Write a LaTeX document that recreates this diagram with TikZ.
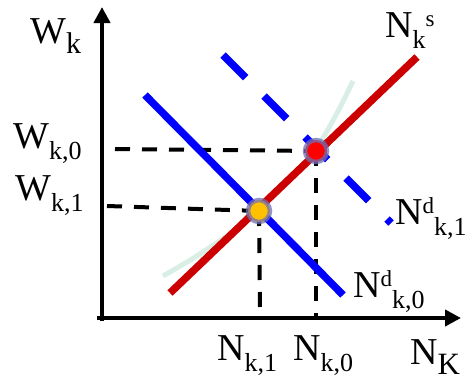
\documentclass[tikz,border=0pt]{standalone}
\usepackage{fontspec}
\setmainfont{Liberation Serif}
\usetikzlibrary{arrows.meta}
\definecolor{supred}{HTML}{CC0000}
\definecolor{dblue}{HTML}{0000FF}
\definecolor{paleg}{HTML}{D9EFE5}
\definecolor{ringc}{HTML}{6F6FB5}
\definecolor{gold}{HTML}{FFC000}
\newcommand\lsub[2][26]{\raisebox{-11pt}{\fontsize{#1}{#1}\selectfont #2}}
\newcommand\lsup[2][23]{\raisebox{11pt}{\fontsize{#1}{#1}\selectfont #2}}
\begin{document}
\begin{tikzpicture}[x=1pt,y=-1pt,
  lbl/.style={inner sep=0pt, anchor=base west, font=\fontsize{38}{38}\selectfont},
  axis/.style={line width=4.5pt, -{Triangle[length=16pt,width=16pt]}},
  guide/.style={line width=4pt, dash pattern=on 15pt off 12pt},
  curveline/.style={line width=7.5pt},
  eqdot/.style={circle, inner sep=0pt, minimum size=22pt, line width=4.5pt, draw=ringc, draw opacity=0.75}]
\useasboundingbox (0,0) rectangle (476,380);

% axes
\coordinate (yb) at (102,321);
\coordinate (yt) at (102,7);
\coordinate (xl) at (97,318);
\coordinate (xr) at (461,318);
\draw[axis] (yb) -- (yt);
\draw[axis] (xl) -- (xr);

% pale green curve
\draw[paleg, line width=5pt, line cap=butt] plot[smooth] coordinates {(163,276) (200,254) (240,226) (280,189) (315,150) (336,115) (353,81)};

% equilibrium dots (positions)
\coordinate (rdc) at (316,151);
\coordinate (ydc) at (259,211);

% dashed guides
\coordinate (h0s) at (115,149);
\coordinate (h1s) at (107,206);
\coordinate (v0e) at (316,318);
\coordinate (v1e) at (260,318);
\draw[guide] (h0s) -- (rdc);
\draw[guide] (h1s) -- (ydc);
\draw[guide] (rdc) -- (v0e);
\draw[guide] (ydc) -- (v1e);

% demand curves
\coordinate (d0a) at (145,95);
\coordinate (d0b) at (343,295);
\coordinate (d1a) at (223,55);
\coordinate (d1b) at (391,223);
\draw[curveline, dblue] (d0a) -- (d0b);
\draw[curveline, dblue, dash pattern=on 32pt off 26pt] (d1a) -- (d1b);

% supply curve
\coordinate (sa) at (170,293);
\coordinate (sb) at (417,57);
\draw[curveline, supred] (sa) -- (sb);

% dots
\node[eqdot, fill=red] (rd) at (rdc) {};
\node[eqdot, fill=gold] (yd) at (ydc) {};

% labels
\node[lbl] (wk) at (30,43) {W\raisebox{-10pt}{\fontsize{30}{30}\selectfont k}};
\node[lbl] (wk0) at (13,148) {W\lsub{k,0}};
\node[lbl] (wk1) at (15,200) {W\lsub{k,1}};
\node[lbl] (nk1) at (217,360) {N\lsub{k,1}};
\node[lbl] (nk0) at (293,360) {N\lsub{k,0}};
\node[lbl] (nK) at (410,364) {N\raisebox{-10pt}{\fontsize{31}{31}\selectfont K}};
\node[lbl] (nd0) at (353,297) {N\lsup{d}\lsub{k,0}};
\node[lbl] (nd1) at (395,224) {N\lsup{d}\lsub{k,1}};
\node[lbl] (nks) at (385,37) {N\lsub{k}\lsup{s}};
\end{tikzpicture}
\end{document}
